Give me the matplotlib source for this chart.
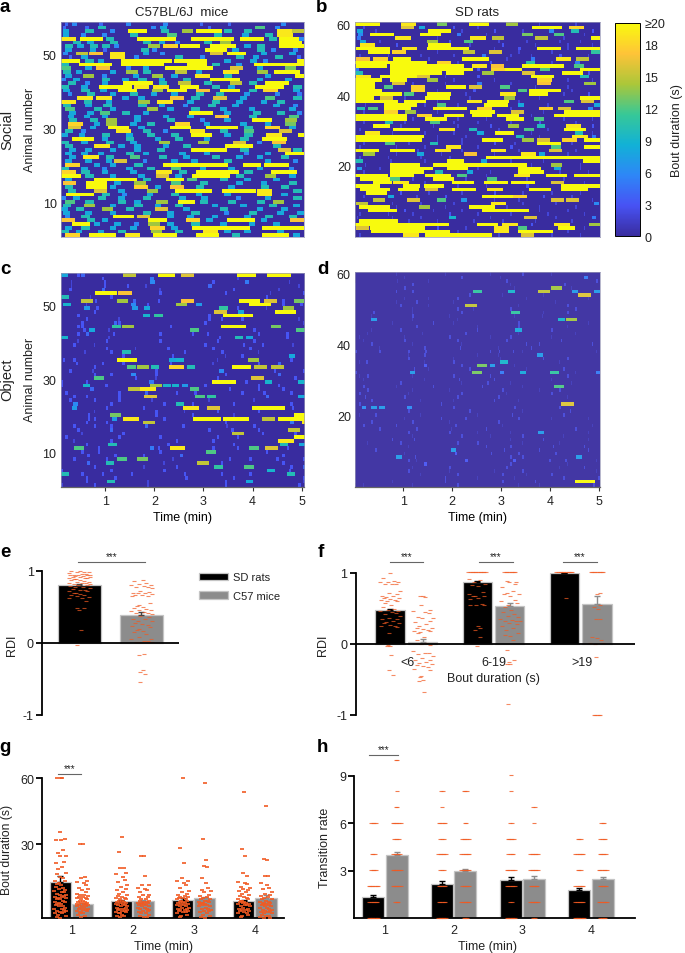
import matplotlib
matplotlib.use('Agg')
import numpy as np
import matplotlib.pyplot as plt
from matplotlib.colors import LinearSegmentedColormap
from matplotlib.lines import Line2D

plt.rcParams['font.family'] = ['Liberation Sans', 'DejaVu Sans']
plt.rcParams['axes.unicode_minus'] = False
plt.rcParams['text.color'] = '#222222'
plt.rcParams['xtick.labelcolor'] = '#222222'
plt.rcParams['ytick.labelcolor'] = '#222222'

W, H = 685, 954
ORANGE = '#f15a22'
GRAY = '#8c8c8c'

# parula, 8 anchors
parula = LinearSegmentedColormap.from_list('parula', [
    (0.225, 0.175, 0.625), (0.2810, 0.3228, 0.9579), (0.1786, 0.5289, 0.9682),
    (0.0689, 0.6948, 0.8394), (0.2161, 0.7843, 0.5923), (0.6720, 0.7793, 0.2227),
    (0.9970, 0.7659, 0.2199), (0.9763, 0.9831, 0.0538)])

# bouts per animal, top row first: (start second, duration second)
social_mice = [
    [(5,4),(14,6),(47,4),(80,6),(125,6),(170,4),(205,4),(270,6)],
    [(2,4),(30,4),(45,10),(110,6),(122,8),(180,4),(238,12),(262,6)],
    [(2,8),(30,10),(60,6),(82,23),(123,10),(148,14),(166,31),(200,10),(224,10),(265,19),(283,15)],
    [(2,8),(25,6),(50,6),(85,10),(130,12),(188,10),(222,8),(250,10),(265,19)],
    [(0,19),(23,29),(55,10),(93,48),(160,52),(219,30),(255,10),(267,25),(292,6)],
    [(15,10),(32,8),(60,10),(100,10),(120,8),(140,6),(175,10),(195,14),(267,29)],
    [(5,10),(20,8),(35,10),(50,10),(65,6),(107,14),(125,18),(146,25),(183,31),(225,8),(240,10),(267,31)],
    [(5,8),(35,8),(52,4),(98,10),(112,6),(177,27),(210,8),(240,10),(258,6),(285,6)],
    [(3,6),(18,15),(34,17),(60,19),(100,8),(122,6),(183,16),(203,24),(245,8),(280,8)],
    [(10,4),(25,8),(60,19),(90,6),(140,10),(170,6),(215,10),(235,8),(262,10),(290,4)],
    [(0,23),(30,10),(45,8),(74,35),(109,27),(138,41),(200,8),(232,8),(248,6),(289,22)],
    [(0,10),(22,40),(74,52),(154,25),(185,10),(215,7),(237,61)],
    [(0,12),(30,8),(43,17),(80,6),(100,8),(128,22),(150,37),(207,16),(240,8),(275,13)],
    [(2,10),(18,8),(60,8),(80,14),(100,10),(140,15),(165,8),(199,19),(240,14),(261,32)],
    [(5,8),(27,14),(50,6),(88,8),(111,14),(135,8),(164,19),(200,10),(250,8),(287,30)],
    [(0,6),(15,8),(50,10),(75,8),(95,10),(120,8),(150,10),(183,37),(240,8),(275,8)],
    [(8,10),(30,6),(50,8),(76,37),(120,10),(144,15),(175,10),(207,15),(230,10),(250,29)],
    [(0,10),(25,8),(47,40),(89,19),(113,19),(146,23),(185,10),(205,8),(238,35),(285,10)],
    [(3,8),(25,10),(48,8),(70,23),(111,14),(130,25),(166,17),(195,25),(230,10),(248,18),(285,8)],
    [(8,6),(32,10),(60,8),(85,10),(110,8),(135,8),(165,10),(190,10),(225,7),(262,6),(290,5)],
    [(20,19),(43,19),(75,8),(95,8),(134,17),(160,10),(187,16),(220,8),(250,12),(285,10)],
    [(0,19),(28,10),(55,8),(95,14),(118,19),(155,8),(185,10),(215,8),(245,8),(265,10)],
    [(2,10),(30,8),(52,10),(95,10),(120,8),(150,6),(180,10),(210,8),(260,8),(285,6)],
    [(5,12),(40,10),(60,8),(105,14),(130,8),(160,10),(195,8),(230,8),(280,8)],
    [(10,8),(32,8),(48,12),(75,10),(100,8),(157,29),(200,8),(235,10),(265,10),(290,6)],
    [(8,8),(28,8),(50,8),(90,8),(125,8),(155,8),(189,17),(230,10),(280,12)],
    [(10,10),(35,10),(55,14),(90,8),(130,10),(170,6),(200,8),(234,25),(275,14)],
    [(9,18),(40,8),(55,14),(85,8),(105,10),(140,18),(175,8),(220,8),(250,8),(275,13)],
    [(9,16),(35,8),(58,26),(95,8),(134,25),(178,39),(225,10),(250,18),(280,8)],
    [(5,10),(25,6),(67,19),(100,10),(125,6),(158,19),(195,10),(225,12),(267,16)],
    [(0,8),(22,8),(50,10),(80,8),(105,10),(135,10),(160,25),(200,8),(225,10),(252,19),(291,20)],
    [(14,26),(50,8),(80,10),(115,8),(140,10),(175,8),(220,10),(246,31)],
    [(0,10),(25,8),(55,10),(85,8),(120,14),(168,14),(211,16),(240,6),(259,17)],
    [(5,10),(41,19),(70,8),(90,8),(125,8),(150,10),(201,35),(260,10)],
    [(10,8),(30,8),(60,8),(90,8),(118,10),(160,43),(220,10),(266,16),(285,10)],
    [(5,8),(25,8),(45,8),(80,10),(100,8),(145,8),(175,8),(225,6),(250,8),(275,30)],
    [(10,8),(27,19),(55,10),(85,12),(120,10),(150,8),(185,10),(215,8),(240,8),(270,10)],
    [(5,8),(30,8),(55,8),(65,16),(100,6),(135,8),(160,8),(200,10),(250,8),(285,6)],
    [(5,18),(40,8),(60,8),(90,10),(125,80),(223,22),(249,31)],
    [(0,10),(25,8),(50,6),(80,8),(105,10),(135,12),(170,8),(205,8),(240,8),(280,6)],
    [(0,18),(25,10),(50,8),(85,8),(117,19),(145,10),(166,52),(225,10),(257,32)],
    [(0,25),(30,10),(60,8),(95,8),(117,16),(140,8),(161,46),(215,10),(250,14),(280,8)],
    [(5,8),(41,52),(100,10),(129,22),(155,12),(195,10),(225,8),(260,8)],
    [(2,17),(31,25),(65,8),(90,14),(135,12),(170,10),(215,8),(245,8),(280,10)],
    [(5,10),(31,25),(60,8),(89,18),(115,8),(134,17),(165,10),(205,8),(245,10),(270,10)],
    [(8,10),(41,16),(70,8),(105,14),(140,45),(197,42),(240,19),(285,10)],
    [(6,34),(50,10),(75,6),(105,8),(135,10),(165,8),(200,8),(240,19),(270,8)],
    [(0,6),(15,8),(45,10),(70,8),(100,10),(145,8),(172,8),(215,6),(250,8),(285,10)],
    [(5,12),(30,10),(70,10),(90,8),(117,14),(143,21),(170,10),(205,10),(240,10),(260,14)],
    [(2,10),(28,14),(60,8),(90,10),(115,8),(140,10),(185,8),(220,8),(255,10),(285,8)],
    [(0,8),(18,10),(50,14),(80,10),(115,16),(150,8),(195,10),(240,8),(270,8)],
    [(3,8),(30,8),(60,8),(100,10),(130,8),(160,10),(200,6),(230,10),(265,8),(290,8)],
    [(5,6),(25,10),(64,25),(93,16),(130,8),(155,8),(185,8),(225,8),(250,10),(280,10)],
    [(0,17),(32,10),(50,8),(107,23),(153,18),(178,8),(204,34),(245,8),(281,17)],
    [(13,23),(40,8),(65,8),(90,6),(107,14),(130,8),(160,10),(195,8),(230,8),(260,8)],
    [(5,8),(25,10),(60,8),(85,8),(109,18),(135,8),(161,71),(246,52)],
    [(0,10),(18,8),(45,8),(70,10),(110,14),(140,10),(174,19),(200,8),(225,8),(265,8)],
    [(5,18),(34,34),(78,19),(113,29),(166,28),(210,10),(246,34),(285,8)],
]

social_rats = [
    [(0,31),(56,19),(100,13),(140,24),(185,14),(225,2),(270,2)],
    [(10,2),(56,16),(78,8),(120,3),(150,2),(217,37),(262,18)],
    [(2,8),(25,2),(90,27),(130,2),(170,3),(205,2),(238,6),(264,10),(290,3)],
    [(4,6),(18,30),(80,25),(125,5),(160,2),(205,13),(244,12),(280,2)],
    [(2,5),(49,19),(100,2),(141,19),(168,15),(221,15),(255,2),(289,22)],
    [(6,8),(30,2),(88,14),(115,3),(133,12),(175,2),(210,2),(250,2),(275,2)],
    [(6,19),(50,3),(90,27),(140,2),(180,3),(220,2),(260,2),(290,2)],
    [(1,42),(57,19),(88,52),(170,2),(200,3),(223,29),(260,2),(271,30)],
    [(16,27),(45,18),(100,2),(132,15),(164,16),(200,2),(240,2),(289,11)],
    [(5,2),(40,2),(80,2),(120,2),(155,5),(190,2),(215,2),(250,3),(285,2)],
    [(1,17),(22,18),(47,21),(90,2),(131,33),(185,2),(215,5),(246,19),(271,15)],
    [(0,88),(100,18),(125,2),(165,3),(209,11),(240,2),(270,5)],
    [(1,38),(43,90),(143,19),(166,17),(205,51),(268,12)],
    [(0,5),(43,102),(150,3),(166,18),(184,20),(227,12),(276,24)],
    [(0,10),(43,64),(111,23),(156,14),(205,16),(254,25),(285,3)],
    [(1,19),(31,45),(76,16),(110,2),(150,3),(215,29),(276,10)],
    [(0,33),(43,21),(88,14),(120,2),(170,2),(223,18),(260,2),(290,2)],
    [(0,25),(45,16),(70,2),(110,2),(150,5),(190,2),(223,17),(281,14)],
    [(0,25),(35,12),(68,18),(111,25),(139,16),(178,12),(220,2),(260,2)],
    [(0,33),(68,18),(100,2),(145,3),(199,12),(213,39),(265,2)],
    [(0,58),(60,12),(88,29),(135,2),(178,19),(213,23),(255,2),(285,3)],
    [(0,23),(31,16),(60,2),(86,30),(140,2),(182,14),(225,2),(275,26)],
    [(0,53),(60,27),(100,2),(137,19),(162,27),(200,2),(256,12),(277,16)],
    [(12,2),(35,41),(85,2),(100,12),(125,2),(158,29),(199,8),(235,2),(293,8)],
    [(2,10),(16,12),(35,33),(95,42),(150,18),(190,2),(225,18),(248,16),(285,6)],
    [(10,2),(35,18),(61,14),(100,2),(141,31),(191,16),(230,2),(256,44)],
    [(0,64),(76,18),(109,25),(143,25),(174,27),(215,2),(244,56)],
    [(0,64),(70,2),(86,27),(125,2),(160,2),(185,22),(219,12),(255,2),(290,2)],
    [(10,2),(37,10),(60,2),(92,12),(120,2),(150,2),(190,2),(225,3),(270,2)],
    [(22,21),(55,2),(95,2),(125,2),(165,3),(187,14),(223,10),(258,19),(290,3)],
    [(5,2),(47,33),(103,19),(139,10),(175,2),(207,12),(235,2),(256,27)],
    [(12,19),(45,2),(85,2),(120,2),(150,8),(172,23),(215,2),(269,10),(290,2)],
    [(0,84),(100,2),(135,2),(197,10),(225,2),(266,19),(290,5)],
    [(0,82),(100,2),(130,2),(156,25),(205,14),(223,16),(254,18),(281,20)],
    [(10,2),(37,12),(65,2),(92,10),(130,2),(170,3),(195,2),(223,29),(265,2)],
    [(5,2),(50,2),(85,2),(111,19),(150,2),(190,3),(240,12),(281,20)],
    [(0,29),(43,31),(76,2),(98,19),(130,2),(166,19),(200,2),(238,16),(270,2)],
    [(10,14),(50,2),(76,8),(105,2),(133,17),(170,2),(203,19),(225,8),(260,2)],
    [(5,2),(40,2),(80,2),(115,2),(160,117),(277,24)],
    [(0,10),(43,2),(85,2),(113,20),(154,8),(190,2),(230,2),(279,22)],
    [(12,2),(43,37),(96,53),(150,61),(215,2),(240,14),(275,2)],
    [(2,7),(30,2),(43,53),(113,25),(150,2),(199,29),(244,8),(275,2)],
    [(10,2),(43,41),(98,10),(137,8),(165,2),(199,33),(250,2),(285,2)],
    [(0,41),(43,29),(86,31),(125,12),(160,2),(195,19),(234,25),(268,32)],
    [(6,37),(43,12),(70,2),(96,25),(135,2),(162,12),(210,2),(255,2)],
    [(22,23),(47,19),(85,2),(119,27),(158,29),(191,29),(240,16),(280,2)],
    [(0,31),(59,21),(84,25),(125,2),(160,2),(210,3),(252,48)],
    [(6,37),(53,25),(86,16),(119,29),(162,19),(213,27),(252,33)],
    [(14,25),(55,3),(90,2),(130,2),(170,3),(205,2),(240,2),(275,2)],
    [(10,2),(40,8),(75,2),(110,3),(156,37),(193,18),(230,3),(265,2)],
    [(22,15),(64,16),(100,12),(130,7),(170,2),(200,2),(240,16),(258,16),(290,2)],
    [(1,15),(45,2),(80,2),(120,2),(166,19),(205,2),(245,2),(293,6)],
    [(5,38),(50,2),(78,14),(110,2),(139,33),(185,2),(225,2),(270,2)],
    [(16,35),(60,3),(95,2),(130,2),(156,57),(225,2),(260,2)],
    [(5,2),(40,2),(70,2),(115,3),(150,2),(190,2),(235,2),(280,2)],
    [(2,2),(45,2),(80,2),(115,9),(165,2),(207,16),(245,2),(290,5)],
    [(5,48),(65,2),(100,2),(145,2),(180,2),(220,2),(265,2)],
    [(0,115),(150,25),(180,19),(215,3),(244,19),(287,14)],
    [(1,16),(18,68),(100,3),(135,2),(170,19),(199,12),(248,21),(280,2)],
    [(20,96),(125,2),(170,19),(199,43),(260,2)],
    [(5,2),(59,19),(86,82),(175,2),(203,16),(240,2),(275,2)],
]

object_mice = [
    [(0,8),(20,3),(25,4),(76,15),(118,21),(146,16),(215,23),(251,30)],
    [(50,3),(109,5),(215,2)],
    [(12,2),(52,3),(109,6),(185,3),(225,5),(278,2)],
    [(12,2),(52,3),(80,3),(103,2),(180,4),(290,2)],
    [(10,3),(50,4),(120,2),(210,3),(265,2)],
    [(41,28),(70,17),(120,3),(200,3),(255,2),(295,3)],
    [(0,10),(35,2),(60,3),(250,3)],
    [(24,15),(41,3),(68,14),(88,4),(118,3),(146,17),(218,25),(248,16),(270,3),(284,13)],
    [(3,9),(30,2),(85,6),(105,3),(140,14),(165,7),(230,27),(270,3),(292,3)],
    [(28,7),(43,3),(87,7),(101,8),(193,11),(215,3),(250,2),(271,14)],
    [(40,3),(187,16),(216,8),(261,26)],
    [(20,3),(100,9),(114,11),(180,3),(198,36)],
    [(30,3),(70,2),(180,3),(195,3),(220,3),(290,2)],
    [(25,3),(65,4),(70,3),(175,3),(295,2)],
    [(20,3),(25,3),(62,11),(75,14),(133,3),(196,30),(256,13)],
    [(27,3),(34,8),(58,2),(157,12),(235,3),(287,12)],
    [(20,3),(30,4),(63,3),(120,3),(160,3),(178,3),(240,3),(275,3)],
    [(0,9),(58,2),(193,3),(212,10),(226,8),(275,3)],
    [(20,2),(55,3),(120,3),(190,3),(235,3)],
    [(15,3),(40,2),(175,3),(222,3),(245,3),(282,2)],
    [(55,3),(90,2),(130,3),(185,3),(230,3)],
    [(28,2),(60,3),(75,10),(150,3),(196,3),(240,2)],
    [(75,3),(135,3),(200,2),(220,3),(278,8)],
    [(2,3),(15,3),(68,25),(132,8),(141,9),(190,2),(228,14),(280,3)],
    [(18,3),(50,3),(75,3),(133,3),(185,2),(240,3),(265,4)],
    [(40,3),(80,12),(93,14),(110,10),(132,18),(154,10),(209,23),(236,15),(257,15)],
    [(10,3),(38,2),(115,3),(193,6),(260,3),(295,3)],
    [(40,3),(60,3),(85,6),(115,3),(200,3),(265,4)],
    [(40,12),(90,3),(115,2),(190,3),(232,16),(285,3)],
    [(0,3),(30,3),(108,5),(185,29),(225,3),(249,9),(290,9)],
    [(0,3),(27,9),(54,3),(109,14),(125,9),(135,9),(148,7),(175,3),(240,3),(265,3)],
    [(36,4),(82,15),(97,19),(157,12),(205,3),(240,3),(270,3)],
    [(5,3),(70,3),(102,4),(140,3),(163,3),(220,3),(247,3),(280,3)],
    [(15,3),(30,3),(70,3),(101,16),(164,12),(178,11),(250,4),(290,8)],
    [(10,3),(40,3),(70,3),(110,2),(180,2),(235,2)],
    [(15,6),(60,3),(125,3),(140,10),(160,3),(210,3),(280,3)],
    [(13,7),(55,3),(100,3),(149,19),(178,16),(233,41),(282,3)],
    [(40,2),(115,3),(150,2),(190,3),(240,3)],
    [(33,3),(60,13),(115,3),(160,3),(210,2),(284,20)],
    [(33,3),(40,3),(62,7),(76,19),(125,3),(161,34),(198,31),(246,15),(265,34)],
    [(30,3),(55,3),(100,15),(200,3),(280,5),(294,19)],
    [(15,3),(40,3),(60,3),(102,4),(148,3),(202,2),(235,3)],
    [(20,3),(60,4),(180,3),(208,3),(240,3),(277,15)],
    [(25,2),(75,3),(209,15),(245,3),(285,3)],
    [(5,3),(70,3),(120,3),(190,3),(215,3),(284,20)],
    [(15,2),(60,3),(140,3),(185,3),(265,19)],
    [(30,3),(58,10),(130,3),(210,3),(267,10),(291,8)],
    [(16,12),(45,3),(109,5),(118,3),(133,19),(185,3),(215,3),(230,12),(249,16),(276,3)],
    [(25,3),(45,3),(120,3),(177,12),(250,3)],
    [(32,3),(65,3),(100,3),(145,4),(270,3)],
    [(15,3),(55,3),(69,12),(93,13),(136,2),(205,3),(230,3),(263,3),(295,3)],
    [(32,4),(55,10),(125,2),(166,15),(195,3),(270,3)],
    [(40,3),(100,2),(140,3),(187,11),(224,12),(280,3),(295,4)],
    [(0,3),(60,3),(125,3),(252,9),(278,3)],
    [(0,10),(25,3),(50,3),(85,3),(150,3),(195,3),(230,3),(276,10)],
    [(30,3),(65,3),(152,3),(210,3),(295,3)],
    [(30,3),(56,10),(105,2),(200,3),(226,8),(296,2)],
    [(0,2),(40,3),(105,2),(200,3),(290,3)],
]

object_rats = [
    [(50,1),(110,1),(165,1),(205,2),(240,1)],
    [(60,1),(130,2),(178,1),(280,5)],
    [(52,1),(90,1),(185,2),(295,2)],
    [(0,1),(70,2),(190,1),(256,2)],
    [(0,1),(60,2),(195,1),(240,14),(265,1)],
    [(50,2),(70,2),(145,11),(187,9),(224,15),(266,7),(293,7)],
    [(140,2),(180,1),(230,1),(273,16)],
    [(60,1),(90,1),(125,2),(210,1),(285,1)],
    [(50,1),(75,2),(120,1),(160,1),(245,1)],
    [(55,2),(90,1),(135,15),(200,1),(260,2)],
    [(70,1),(125,2),(145,1),(190,2),(270,2)],
    [(22,2),(70,1),(130,2),(155,1),(191,11),(230,1),(260,2)],
    [(20,1),(70,2),(115,1),(195,1),(229,1),(280,1)],
    [(20,7),(70,1),(125,1),(160,1),(248,9),(258,14)],
    [(45,1),(95,2),(120,1),(200,2),(285,1)],
    [(75,2),(150,1),(200,2),(220,1),(260,1)],
    [(20,1),(55,2),(100,1),(149,2),(196,8),(240,2)],
    [(15,1),(82,1),(135,2),(200,1),(270,1)],
    [(5,1),(60,1),(115,2),(165,1),(190,2),(240,1)],
    [(10,1),(60,2),(125,2),(185,2),(252,2)],
    [(20,2),(70,1),(130,1),(209,2),(225,2),(290,2)],
    [(30,1),(85,2),(128,2),(175,1),(215,2),(280,1)],
    [(0,2),(30,2),(65,2),(86,2),(165,2),(176,2),(193,2),(205,1),(295,1)],
    [(65,1),(85,2),(150,1),(175,1),(223,7),(280,1)],
    [(35,1),(65,2),(120,1),(178,1),(230,2),(260,2)],
    [(5,1),(14,2),(85,1),(120,2),(178,9),(250,1)],
    [(85,3),(130,2),(149,13),(165,7),(195,1),(275,1)],
    [(40,1),(72,2),(90,1),(140,2),(210,1),(255,2)],
    [(0,2),(67,7),(143,13),(177,5),(202,8),(239,11),(270,1),(295,5)],
    [(5,1),(15,2),(70,1),(120,2),(165,2),(260,2)],
    [(10,1),(85,1),(127,2),(170,2),(240,1),(280,1)],
    [(55,2),(130,1),(162,2),(190,1),(265,1)],
    [(10,2),(50,1),(95,2),(155,2),(205,1),(244,12)],
    [(15,2),(70,1),(115,1),(180,2),(225,1),(250,2)],
    [(5,2),(65,1),(130,2),(185,1),(240,2)],
    [(2,1),(12,2),(60,2),(125,2),(175,2),(260,1)],
    [(20,2),(80,1),(120,1),(170,2),(200,1)],
    [(5,2),(40,1),(105,2),(155,1),(252,16),(280,1)],
    [(8,6),(20,7),(30,7),(64,6),(120,2),(160,1),(195,2),(250,2)],
    [(65,2),(100,1),(140,2),(205,1),(263,2)],
    [(5,1),(25,2),(80,1),(150,1),(192,2),(255,2)],
    [(60,1),(105,2),(135,2),(200,2),(240,1),(285,1)],
    [(20,2),(70,2),(115,1),(175,2),(215,1)],
    [(10,2),(50,2),(123,2),(180,1),(290,1)],
    [(30,2),(75,2),(118,1),(160,2),(220,1),(270,2)],
    [(65,2),(115,2),(150,1),(190,1),(224,7),(285,1)],
    [(70,1),(130,2),(165,1),(205,2),(255,1)],
    [(45,2),(72,2),(190,1),(230,2),(285,1)],
    [(15,1),(55,2),(125,2),(150,2),(205,1),(250,1),(280,1)],
    [(65,1),(100,1),(160,2),(190,2),(242,2),(280,2)],
    [(25,2),(95,1),(117,7),(182,2),(225,2),(285,2)],
    [(60,1),(122,3),(166,2),(200,2),(245,2)],
    [(2,1),(50,7),(73,2),(190,2),(205,2),(271,7)],
    [(65,2),(75,1),(135,3),(160,1),(194,3),(238,2),(257,2),(295,1)],
    [(2,1),(85,3),(190,2),(260,1)],
    [(70,1),(115,2),(185,2),(250,1),(280,2)],
    [(65,2),(115,1),(170,1),(205,2),(295,1)],
    [(80,1),(125,2),(180,2),(210,1),(240,2)],
    [(110,2),(150,1),(195,1),(255,2),(298,2)],
    [(0,1),(45,1),(110,2),(180,2),(220,2),(269,25)],
    [(10,1),(70,1),(125,2),(200,1),(225,1),(292,2)],
]

# e panel, RDI per animal
rdi_rats = [1.0,1.0,.99,.99,.98,.97,.96,.96,.95,.95,.95,.94,.94,.93,.93,.92,.92,.91,.9,.9,.9,.89,.89,.88,.87,.86,.85,.85,.84,.84,.83,.82,.82,.8,.8,.79,.78,.78,.77,.75,.74,.74,.72,.72,.7,.69,.68,.67,.66,.65,.64,.63,.62,.58,.49,.49,.46,.18,-.03]
rdi_mice = [.87,.86,.84,.82,.81,.8,.79,.78,.78,.77,.72,.71,.70,.70,.69,.68,.67,.66,.65,.65,.55,.53,.52,.5,.49,.47,.46,.46,.45,.43,.42,.41,.40,.38,.36,.33,.33,.31,.3,.28,.27,.25,.23,.22,.2,.18,.17,.15,.12,.08,.06,.05,.03,.03,.02,.02,.01,-.15,-.16,-.38,-.4,-.43,-.54]
e_heights = [0.80, 0.39]
e_errors = [0.02, 0.04]

# f panel, three bout lengths, rats then mice
f_labels = ['<6', '6-19', '>19']
f_rats_h = [0.48, 0.87, 1.0]
f_mice_h = [0.035, 0.53, 0.57]
f_rats_err = [0.02, 0.02, 0.0]
f_mice_err = [0.03, 0.05, 0.11]
f_rats = [
    [1.0,.93,.89,.88,.88,.87,.85,.84,.84,.75,.72,.7,.68,.67,.66,.65,.65,.64,.62,.62,.6,.6,.58,.55,.52,.5,.48,.46,.46,.45,.43,.42,.40,.36,.35,.35,.33,.31,.3,.29,.27,.26,.25,.24,.15,-.02,-.03,-.03,-.15,-.36,-.43],
    [1.02]*12 + [.92,.9,.87,.85,.83,.82,.73,.7,.68,.67,.67,.65,.63,.56,.55,.55,.55,.25,.22,.2,.1,-.03],
    [1.02]*11 + [.65],
]
f_mice = [
    [.68,.67,.66,.55,.48,.46,.45,.43,.38,.37,.36,.33,.31,.28,.25,.23,.22,.21,.2,.18,.18,.17,.15,.1,.05,.02,0,-.02,-.1,-.12,-.13,-.14,-.17,-.2,-.22,-.23,-.25,-.27,-.28,-.3,-.31,-.33,-.35,-.37,-.45,-.47,-.5,-.52,-.67],
    [1.02]*8 + [.89,.88,.87,.85,.8,.75,.72,.7,.7,.68,.62,.6,.58,.55,.52,.48,.45,.42,.4,.38,.35,.34,.33,.33,.32,.3,.28,.25,.22,.2,.15,.12,.11,.05,-.08,-.22,-.25,-.28,-.28,-.85],
    [1.02]*9 + [.72,.7,.55,.52,.5,.35,.35,.1,.09,.05,.01,.01,0,-.18] + [-1.0]*5,
]

# g panel, bout duration per minute
g_rats_h = [15.6, 7.1, 7.7, 7.1]
g_mice_h = [6.0, 7.1, 8.4, 8.7]
g_rats_err = [2.4, 0.8, 0.8, 0.7]
g_mice_err = [0.5, 0.6, 0.8, 1.0]
g_rats = [
    [60,60,60,36.9,34,33.5,33.5,29,28,26.5,26.5,24,23.5,22,21,19.5,19,17.5,17,16,16,15,14.5,14,13.5,13,12.5,12,11.5,11,11,10.5,10,10,9.5,9,9,8.5,8.5,8,8,7.5,7,7,6.5,6,6,5.5,5,5,4.5,4,4,3.5,3,3,2.5,2.5,2,2,1.5,1,0.5,0],
    [35,28.5,21.5,21.5,19.5,19,17.5,16.5,15.5,14,13.5,12.5,12,11,10.5,10,9.5,9,8.5,8.5,8,8,7.5,7.5,7,7,6.5,6.5,6,6,5.5,5.5,5,5,4.5,4.5,4,4,3.5,3.5,3,3,2.5,2.5,2,2,1.5,1,1,.5],
    [60,30,23.5,17,16,16,15,14,13,11.5,11,10.5,10,9.5,9,9,8.5,8.5,8,8,7.5,7.5,7,7,6.5,6.5,6,6,5.5,5.5,5,5,4.5,4.5,4,4,3.5,3.5,3,3,2.5,2.5,2,1.5,1,.5],
    [54,29.5,26.5,19.5,18,15.5,15,14.5,13.5,13,12.5,12,11.5,11,10.5,10,9.5,9,8.5,8,8,7.5,7.5,7,7,6.5,6.5,6,6,5.5,5.5,5,5,4.5,4,4,3.5,3.5,3,3,2.5,2,2,1.5,1,.5],
]
g_mice = [
    [31.7,31.7,17.5,17,16,15.5,15,14,13,12.5,12,11,10.5,10,10,9.5,9,9,8.5,8.5,8,8,7.5,7.5,7,7,6.5,6.5,6,6,6,5.5,5.5,5,5,5,4.5,4.5,4,4,3.5,3.5,3,3,2.5,2,2,1.5,1,.5],
    [26.5,26.5,18,14,14,13,12.5,12,11,10,10,9,9,8,8,7.5,7.5,7,7,6.5,6.5,6.5,6,6,5.5,5.5,5,5,4.5,4.5,4,4,3.5,3,3,2.5,2,2,1.5,1,.5,.5],
    [58,34,25,22.5,22,17,15,13,12,11.5,11,10,9.5,9,8.5,8,8,7.5,7.5,7,7,6.5,6.5,6,6,5.5,5.5,5,5,4.5,4,4,3.5,3,3,2.5,2,1.5,1,.5,0],
    [48,25.5,25,18,18,15,14,13,12.5,11,10.5,10,9.5,9,8.5,8,8,7.5,7,7,6.5,6.5,6,6,5.5,5.5,5,5,4.5,4.5,4,3.5,3.5,3,3,2.5,2.5,2,2,1.5,1,1,.5,0,0],
]

# h panel, animals at each transition count 0..10
h_rats_h = [1.33, 2.15, 2.4, 1.77]
h_mice_h = [4.0, 3.0, 2.45, 2.45]
h_rats_err = [0.12, 0.2, 0.2, 0.15]
h_mice_err = [0.18, 0.12, 0.18, 0.16]
h_rats_counts = [
    [7,6,7,4,3,0,4,0,0,0,0],
    [6,5,5,3,6,3,5,1,2,0,0],
    [6,2,6,6,4,5,2,0,1,1,0],
    [7,6,6,3,6,3,0,0,0,0,0],
]
h_mice_counts = [
    [0,3,6,6,5,4,6,2,1,0,2],
    [3,6,5,6,6,5,2,0,3,0,0],
    [2,6,5,6,6,0,1,2,0,0,0],
    [4,6,5,6,5,4,3,0,0,0,0],
]
g_labels = ['1', '2', '3', '4']

# horizontal scatter pattern for the dots
JIT = [0.1, -0.7, 0.45, -0.2, 0.85, -0.95, 0.25, 0.6, -0.5, 1.0, -0.1, 0.7, -0.8, 0.35, -0.35, 0.95, -0.6, 0.05, 0.55, -0.9, 0.75, -0.25, -0.45]


def bouts_to_matrix(rows, n_sec):
    m = np.zeros((len(rows), n_sec))
    for i, row in enumerate(rows):
        for start, dur in row:
            m[i, start:start + dur] = min(dur, 20)
    return m


def px_axes(l, t, r, b):
    return fig.add_axes([l / W, 1 - b / H, (r - l) / W, (b - t) / H])


def px_text(x, y, s, **kw):
    kw.setdefault('ha', 'center')
    kw.setdefault('va', 'center')
    return fig.text(x / W, 1 - y / H, s, **kw)


def sig_line(x0, x1, y):
    fig.add_artist(Line2D([x0 / W, x1 / W], [1 - y / H] * 2, color='#666666', lw=0.8))
    px_text((x0 + x1) / 2, y - 6, '***', fontsize=7)


def spread(values, maxw, gap):
    # dot offsets in pixels, wider where dots crowd, rows for repeated values
    v = np.asarray(values, dtype=float)
    out = np.zeros(len(v))
    for i, val in enumerate(v):
        same = np.flatnonzero(v == val)
        if len(same) >= 4:
            out[i] = (list(same).index(i) - (len(same) - 1) / 2) * 1.6
        else:
            n = (np.abs(v - val) < gap).sum()
            out[i] = JIT[i % len(JIT)] * min(maxw, max(3, n * 1.3))
    return out


def heat(rows, box, n_sec, extent, yticks, alpha=None):
    ax = px_axes(*box)
    im = ax.imshow(bouts_to_matrix(rows, n_sec), cmap=parula, vmin=0, vmax=20, aspect='auto',
                   extent=extent, origin='upper', interpolation='nearest', alpha=alpha)
    ax.set_yticks(yticks)
    ax.tick_params(axis='y', length=0, labelsize=9, pad=3)
    ax.set_xticks([])
    for s in ax.spines.values():
        s.set_color('#9a9ab8')
        s.set_linewidth(0.5)
    return ax, im


def time_axis(ax):
    ax.set_xticks([1, 2, 3, 4, 5])
    ax.tick_params(axis='x', length=3, width=0.8, labelsize=9, pad=3, color='#333333')
    ax.spines['bottom'].set_color('#666666')
    ax.spines['bottom'].set_linewidth(0.9)
    ax.set_xlabel('Time (min)', fontsize=9, labelpad=3)


def dashes(ax, x, vals, ms=2.2, mew=0.8, alpha=0.8):
    ax.plot(x, vals, linestyle='none', marker='_', ms=ms, mew=mew, color=ORANGE, alpha=alpha,
            zorder=4, clip_on=False)


def bar_axes(ax):
    for s in ['top', 'right']:
        ax.spines[s].set_visible(False)
    ax.spines['left'].set_linewidth(1.3)
    ax.spines['bottom'].set_linewidth(1.3)
    ax.tick_params(axis='y', length=4, width=1.3, labelsize=9, pad=2)


def draw_bars(ax, x, h, err, color, width, label=None):
    b = ax.bar(x, h, width=width, color=color, edgecolor='#c4c4c4', linewidth=0.9, zorder=2, label=label)
    ax.errorbar(x, h, yerr=[np.zeros(len(err)), err], fmt='none', ecolor=color, elinewidth=1,
                capsize=2, capthick=1, zorder=3)
    return b


fig = plt.figure(figsize=(W / 100, H / 100), dpi=100)

# a, b, c, d
ax_a, _ = heat(social_mice, (61, 23, 304, 238), 298, [5 / 60, 303 / 60, 0.8, 58.9], [10, 30, 50])
ax_b, im = heat(social_rats, (355, 23, 599.5, 238), 300, [0.01, 5.01, -0.25, 60.85], [20, 40, 60])
ax_c, _ = heat(object_mice, (60.5, 274.3, 304, 488), 298, [5 / 60, 303 / 60, 0.8, 58.6], [10, 30, 50])
ax_d, _ = heat(object_rats, (355, 273.3, 599.5, 488), 300, [0.01, 5.01, -0.25, 60.2], [20, 40, 60], alpha=0.95)
time_axis(ax_c)
time_axis(ax_d)

cax = px_axes(615, 24, 640, 237)
cb = fig.colorbar(im, cax=cax)
cb.set_ticks([0, 3, 6, 9, 12, 15, 18, 20])
cb.set_ticklabels(['0', '3', '6', '9', '12', '15', '18', '≥20'])
cax.tick_params(length=0, labelsize=9, pad=3)
cb.outline.set_linewidth(0.7)
px_text(677, 131, 'Bout duration (s)', fontsize=9, rotation=90)

px_text(182, 13, 'C57BL/6J  mice', fontsize=9.5)
px_text(477, 13, 'SD rats', fontsize=9.5)
px_text(7, 130, 'Social', fontsize=10.5, rotation=90)
px_text(30, 130, 'Animal number', fontsize=9, rotation=90)
px_text(7, 380, 'Object', fontsize=10.5, rotation=90)
px_text(30, 380, 'Animal number', fontsize=9, rotation=90)

# e
ax_e = px_axes(42.3, 572, 179, 716)
bar_axes(ax_e)
ax_e.spines['bottom'].set_visible(False)
ax_e.set_xlim(-0.592, 1.602)
ax_e.set_ylim(-1, 1)
ax_e.set_xticks([])
ax_e.set_yticks([-1, 0, 1])
ax_e.bar([0], [e_heights[0]], width=0.69, color='black', edgecolor='#c4c4c4', linewidth=0.9, zorder=2, label='SD rats')
ax_e.bar([1], [e_heights[1]], width=0.69, color=GRAY, edgecolor='#c4c4c4', linewidth=0.9, zorder=2, label='C57 mice')
ax_e.errorbar([0, 1], e_heights, yerr=[[0, 0], e_errors], fmt='none', ecolor='#444444', elinewidth=1, capsize=2, zorder=3)
ax_e.axhline(0, color='black', lw=1.3, zorder=5)
for i, vals in enumerate([rdi_rats, rdi_mice]):
    dashes(ax_e, i + spread(vals, 11, 0.1) / 62.3, vals, alpha=0.7)
ax_e.legend(loc='upper left', bbox_to_anchor=(1.145, 0.99), frameon=False, fontsize=8,
            handlelength=2.65, handleheight=0.66, labelspacing=0.75, handletextpad=0.4, borderpad=0, borderaxespad=0)
sig_line(77.5, 145, 563)

# f
ax_f = px_axes(355.7, 574, 635, 716)
bar_axes(ax_f)
ax_f.spines['bottom'].set_visible(False)
f_x = np.arange(3)
ax_f.set_xlim((355.7 - 406.3) / 87.2, (635 - 406.3) / 87.2)
ax_f.set_ylim(-1, 1)
ax_f.set_xticks([])
ax_f.set_yticks([-1, 0, 1])
draw_bars(ax_f, f_x - 0.187, f_rats_h, f_rats_err, 'black', 0.333)
draw_bars(ax_f, f_x + 0.187, f_mice_h, f_mice_err, GRAY, 0.333)
ax_f.axhline(0, color='black', lw=1.3, zorder=5)
for i in range(3):
    dashes(ax_f, i - 0.187 + spread(f_rats[i], 10, 0.12) / 87.2, f_rats[i], alpha=0.7)
    dashes(ax_f, i + 0.187 + spread(f_mice[i], 10, 0.12) / 87.2, f_mice[i], alpha=0.7)
    ax_f.text(i + 0.01, -0.25, f_labels[i], ha='center', va='center', fontsize=9, zorder=6)
px_text(493, 679, 'Bout duration (s)', fontsize=9)
sig_line(390, 423, 563)
sig_line(479, 513, 563)
sig_line(563, 597, 563)

# g
ax_g = px_axes(42.3, 779.3, 283.7, 919)
bar_axes(ax_g)
g_x = np.arange(4)
ax_g.set_xlim((42.3 - 71.2) / 61.2, (283.7 - 71.2) / 61.2)
ax_g.set_ylim(0, 60)
ax_g.set_yticks([31.7, 60])
ax_g.set_yticklabels(['30', '60'])
ax_g.set_xticks(g_x)
ax_g.set_xticklabels(g_labels)
ax_g.tick_params(axis='x', length=0, labelsize=9, pad=4)
draw_bars(ax_g, g_x - 0.18, g_rats_h, g_rats_err, 'black', 0.34)
draw_bars(ax_g, g_x + 0.18, g_mice_h, g_mice_err, GRAY, 0.35)
for i in range(4):
    dashes(ax_g, i - 0.18 + spread(g_rats[i], 6, 3.0) / 61.2, g_rats[i], ms=2.2, mew=1.2, alpha=1)
    dashes(ax_g, i + 0.18 + spread(g_mice[i], 6, 3.0) / 61.2, g_mice[i], ms=2.2, mew=1.2, alpha=1)
px_text(163, 947, 'Time (min)', fontsize=9)
sig_line(58, 80.7, 775)

# h
ax_h = px_axes(354.3, 776.7, 635, 919)
bar_axes(ax_h)
ax_h.set_xlim((354.3 - 385) / 68.7, (635 - 385) / 68.7)
ax_h.set_ylim(0, 9)
ax_h.set_yticks([3, 6, 9])
ax_h.set_xticks(g_x)
ax_h.set_xticklabels(g_labels)
ax_h.tick_params(axis='x', length=0, labelsize=9, pad=4)
draw_bars(ax_h, g_x - 0.17, h_rats_h, h_rats_err, 'black', 0.32)
draw_bars(ax_h, g_x + 0.17, h_mice_h, h_mice_err, GRAY, 0.32)
for i in range(4):
    for off, counts in [(-0.17, h_rats_counts[i]), (0.17, h_mice_counts[i])]:
        vals = np.repeat(np.arange(11), counts) + 0.02
        xs = np.concatenate([(np.arange(n) - (n - 1) / 2) * 1.6 for n in counts])
        dashes(ax_h, i + off + xs / 68.7, vals)
px_text(488, 947, 'Time (min)', fontsize=9)
sig_line(369, 397.7, 756)

# y labels and panel letters
px_text(12, 645, 'RDI', fontsize=9, rotation=90)
px_text(322.7, 645, 'RDI', fontsize=9, rotation=90)
px_text(7, 850, 'Bout duration (s)', fontsize=8.7, rotation=90)
px_text(325, 848, 'Transition rate', fontsize=9, rotation=90)
for s, x, y in [('a', 5, 8), ('b', 322, 7), ('c', 5, 269), ('d', 323, 269),
                ('e', 5, 553), ('f', 321, 553), ('g', 5, 748), ('h', 322, 748)]:
    px_text(x, y, s, fontsize=13.5, fontweight='bold', color='black')

fig.savefig('out.png', dpi=100)
